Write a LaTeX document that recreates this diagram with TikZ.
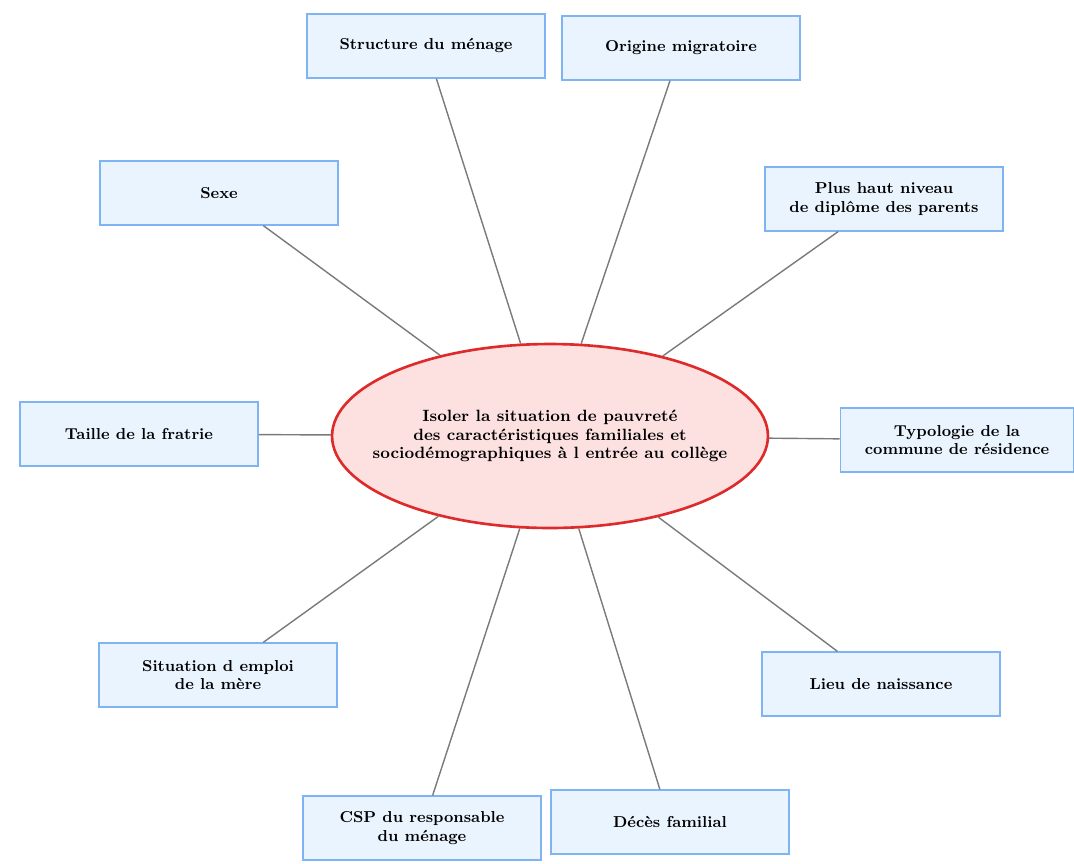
\documentclass[tikz,border=0pt]{standalone}
\usepackage{tikz}
\usetikzlibrary{shapes.geometric}

\definecolor{boxfill}{HTML}{EAF4FE}
\definecolor{boxline}{HTML}{7FB4F4}
\definecolor{ovalfill}{HTML}{FDE1E1}
\definecolor{ovalline}{HTML}{DE2A2A}
\definecolor{linkgray}{HTML}{7A7A7A}

\begin{document}
\begin{tikzpicture}[x=0.02cm,y=-0.02cm,
    factor/.style={draw=boxline,line width=1pt,fill=boxfill,minimum width=4.76cm,
        minimum height=1.27cm,align=center,font=\fontsize{9}{10.4}\selectfont\bfseries},
    goal/.style={ellipse,draw=ovalline,line width=1.5pt,fill=ovalfill,inner sep=0pt,
        minimum width=8.72cm,minimum height=3.68cm},
    goaltext/.style={align=center,font=\fontsize{9.3}{10.4}\selectfont\bfseries},
    link/.style={draw=linkgray,line width=0.8pt}]
   \useasboundingbox (0,0) rectangle (1074,863);
   \node[goal] (centre) at (550,436) {};
   \node[goaltext] (centre_t) at (centre) {Isoler la situation de pauvret\'e\\ des caract\'eristiques familiales et\\ sociod\'emographiques \`a l entr\'ee au coll\`ege};
   \node[factor] (menage) at (426,46) {Structure du m\'enage};
   \node[factor] (origine) at (681,48) {Origine migratoire};
   \node[factor] (diplome) at (884,199) {Plus haut niveau\\ de dipl\^ome des parents};
   \node[factor] (sexe) at (219,193) {Sexe};
   \node[factor] (fratrie) at (139,434) {Taille de la fratrie};
   \node[factor,minimum width=4.66cm] (commune) at (957,440) {Typologie de la\\ commune de r\'esidence};
   \node[factor] (naissance) at (881,684) {Lieu de naissance};
   \node[factor] (deces) at (670,822) {D\'ec\`es familial};
   \node[factor] (csp) at (422,828) {CSP du responsable\\ du m\'enage};
   \node[factor] (emploi) at (218,675) {Situation d emploi\\ de la m\`ere};
    \path[link]
    (centre) edge (menage)
             edge (origine)
             edge (diplome)
             edge (sexe)
             edge (fratrie)
             edge (commune)
             edge (naissance)
             edge (deces)
             edge (csp)
             edge (emploi);
\end{tikzpicture}
\end{document}
